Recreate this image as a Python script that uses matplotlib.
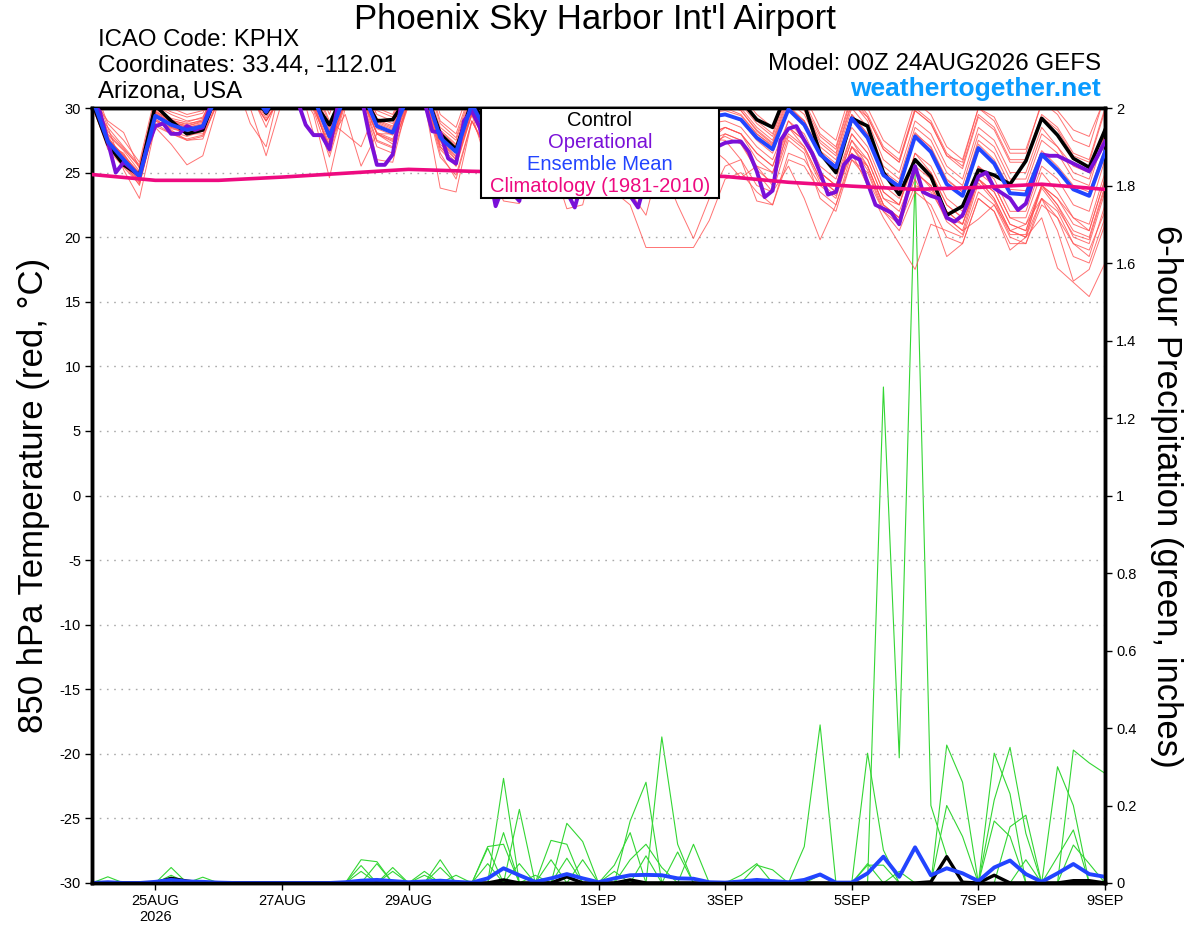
import matplotlib
matplotlib.use('Agg')
import matplotlib.pyplot as plt
from matplotlib.patches import Rectangle
import numpy as np

plt.rcParams['font.family'] = ['Liberation Sans', 'DejaVu Sans']

# ---------------- data ----------------
hours = np.arange(65) * 6          # 00Z 24AUG2026 -> 00Z 9SEP2026, 6-hourly
hours_op = np.arange(129) * 3      # operational run, 3-hourly
clim_hours = np.arange(17) * 24    # daily climatology

tick_hours = [24, 72, 120, 192, 240, 288, 336, 384]
tick_labels = ['25AUG\n2026', '27AUG', '29AUG', '1SEP', '3SEP', '5SEP', '7SEP', '9SEP']
temp_ticks = [-30, -25, -20, -15, -10, -5, 0, 5, 10, 15, 20, 25, 30]
precip_ticks = [0, 0.2, 0.4, 0.6, 0.8, 1.0, 1.2, 1.4, 1.6, 1.8, 2.0]
precip_tick_labels = ['0', '0.2', '0.4', '0.6', '0.8', '1', '1.2', '1.4', '1.6', '1.8', '2']

ens_mean_temp = [
    30.8, 27.4, 26.0, 24.7, 29.4, 28.7, 28.3, 28.6, 31.2, 32.0,
    31.5, 29.7, 31.8, 32.2, 30.8, 27.8, 31.0, 31.5, 28.6, 28.1,
    31.0, 31.5, 27.7, 26.6, 30.3, 28.0, 26.2, 25.3, 29.8, 29.0,
    26.0, 25.2, 29.6, 28.5, 26.0, 25.0, 29.5, 28.8, 28.0, 29.3,
    29.5, 29.1, 27.7, 26.8, 29.9, 28.7, 26.4, 25.4, 29.2, 27.7,
    24.8, 23.9, 27.8, 26.6, 24.1, 23.2, 26.9, 25.7, 23.4, 23.3,
    26.4, 25.2, 23.7, 23.2, 26.6]

control_temp = [
    30.5, 27.2, 25.6, 24.8, 30.2, 29.0, 28.0, 28.3, 31.5, 32.5,
    31.5, 29.6, 31.5, 32.0, 30.5, 28.7, 31.5, 31.2, 29.0, 29.1,
    31.0, 31.5, 28.0, 26.8, 30.5, 28.5, 26.8, 26.0, 30.3, 28.8,
    26.5, 25.8, 30.0, 28.5, 26.2, 25.5, 30.4, 29.5, 27.8, 29.5,
    31.5, 30.6, 29.1, 28.5, 31.5, 30.3, 26.5, 25.0, 29.2, 28.6,
    25.0, 23.3, 26.0, 24.7, 21.7, 22.4, 25.2, 24.8, 24.1, 25.9,
    29.2, 27.9, 26.1, 25.4, 28.3]

operational_temp = [
    30.5, 29.7, 27.4, 25.0, 25.8, 25.3, 24.7, 27.0, 28.6, 28.8,
    28.0, 28.0, 28.6, 28.3, 28.5, 30.2, 31.0, 31.5, 32.0, 32.0,
    31.5, 31.0, 30.5, 31.5, 32.0, 31.5, 30.5, 28.7, 27.9, 27.9,
    26.8, 30.0, 31.0, 32.0, 31.0, 28.0, 25.6, 25.6, 26.4, 30.0,
    31.5, 31.5, 30.5, 28.2, 28.1, 26.1, 25.7, 29.0, 29.8, 28.5,
    25.5, 22.4, 24.0, 23.5, 22.8, 26.5, 29.0, 29.5, 28.0, 25.5,
    23.5, 22.3, 24.5, 27.5, 29.2, 29.0, 27.5, 25.0, 23.2, 22.3,
    24.5, 27.5, 29.0, 28.8, 27.5, 25.5, 24.0, 23.5, 25.0, 27.0,
    27.3, 27.4, 27.4, 26.6, 25.1, 23.1, 23.6, 27.5, 28.4, 28.6,
    27.5, 26.5, 25.0, 23.3, 23.5, 25.6, 26.3, 26.0, 24.2, 22.5,
    22.2, 21.9, 21.0, 23.3, 25.5, 23.5, 23.2, 23.0, 21.5, 21.2,
    21.7, 23.2, 24.7, 25.0, 23.8, 23.4, 23.0, 22.1, 22.6, 24.5,
    26.4, 26.3, 26.3, 26.0, 25.7, 25.4, 25.1, 26.2, 27.4]

climatology_temp = [24.85, 24.4, 24.4, 24.65, 24.95, 25.25, 25.1, 25.0, 24.9,
                    24.8, 24.7, 24.25, 23.95, 23.7, 23.85, 24.1, 23.7]

member_temps = [
    [31.5, 28.0, 26.8, 25.5, 30.2, 29.5, 29.0, 29.2, 32.0, 32.5,
     32.0, 30.5, 32.5, 33.0, 31.5, 28.5, 31.5, 32.0, 29.5, 29.0,
     31.8, 32.0, 28.5, 27.5, 31.0, 29.0, 27.0, 26.0, 30.5, 30.0,
     27.0, 26.0, 30.5, 29.5, 27.0, 26.0, 30.5, 30.0, 29.0, 30.0,
     30.5, 30.0, 28.5, 27.5, 31.0, 30.0, 27.5, 26.5, 30.5, 29.0,
     26.0, 25.0, 29.0, 28.0, 25.5, 24.5, 28.5, 27.5, 25.0, 25.0,
     28.5, 27.0, 25.5, 25.0, 28.5],
    [30.2, 28.5, 25.2, 23.0, 28.6, 28.0, 27.5, 27.8, 30.5, 31.5,
     31.0, 29.0, 31.0, 31.5, 30.0, 27.0, 30.5, 30.8, 28.0, 27.2,
     30.2, 30.8, 26.8, 25.5, 29.5, 27.0, 25.0, 24.0, 29.0, 28.0,
     25.0, 24.0, 28.5, 27.5, 25.0, 24.0, 28.5, 28.0, 27.0, 28.0,
     28.5, 28.0, 26.5, 25.5, 29.0, 27.5, 25.0, 24.0, 28.0, 26.5,
     23.5, 22.5, 26.5, 25.0, 22.5, 21.5, 25.5, 24.0, 21.5, 21.5,
     25.0, 23.5, 21.5, 21.0, 25.0],
    [32.0, 28.8, 27.5, 25.8, 31.0, 30.5, 30.0, 30.5, 33.0, 33.5,
     33.0, 31.5, 33.5, 34.0, 32.5, 29.5, 33.0, 33.5, 30.5, 30.0,
     33.0, 33.5, 29.5, 28.5, 32.0, 30.0, 28.0, 27.0, 31.5, 31.0,
     28.0, 27.0, 31.5, 30.5, 28.0, 27.0, 31.5, 31.0, 30.0, 31.0,
     31.5, 31.0, 29.5, 28.5, 32.0, 31.0, 28.5, 27.5, 31.5, 30.0,
     27.5, 26.5, 30.5, 29.5, 27.0, 26.0, 30.0, 29.0, 26.5, 26.5,
     30.5, 29.5, 27.5, 27.0, 31.0],
    [30.5, 27.2, 26.5, 24.5, 28.5, 27.2, 25.6, 26.3, 30.5, 31.5,
     31.0, 29.5, 31.5, 32.0, 30.0, 27.0, 30.5, 31.0, 28.0, 27.5,
     30.5, 31.0, 27.0, 25.8, 29.5, 27.0, 25.5, 24.5, 28.5, 27.5,
     25.0, 23.5, 26.5, 23.5, 22.5, 19.2, 19.2, 19.2, 19.2, 21.3,
     24.5, 25.0, 23.5, 22.5, 26.0, 25.5, 23.5, 22.5, 26.5, 25.5,
     22.5, 21.5, 25.0, 24.0, 21.5, 21.0, 24.5, 23.5, 21.0, 20.5,
     24.0, 23.0, 21.5, 20.5, 24.5],
    [30.0, 27.5, 26.2, 24.2, 29.0, 28.5, 28.0, 28.0, 31.0, 32.0,
     31.2, 28.5, 31.5, 32.0, 30.5, 26.5, 30.5, 31.0, 27.5, 27.0,
     30.5, 31.0, 26.5, 24.5, 29.0, 26.5, 24.5, 23.5, 28.0, 27.0,
     24.0, 23.0, 27.0, 26.0, 24.0, 23.5, 25.5, 22.5, 19.9, 23.0,
     25.5, 26.0, 24.0, 23.5, 25.5, 23.0, 19.8, 22.5, 26.0, 24.5,
     22.0, 21.0, 24.0, 23.5, 21.5, 20.5, 24.5, 23.0, 20.5, 21.0,
     24.0, 22.5, 20.0, 19.5, 23.5],
    [31.0, 27.8, 26.0, 24.8, 29.8, 29.0, 28.8, 29.0, 31.5, 32.0,
     31.5, 30.0, 32.0, 32.5, 31.0, 28.0, 31.0, 31.5, 28.5, 28.0,
     31.0, 31.5, 27.5, 26.0, 30.0, 27.5, 25.5, 24.8, 29.5, 28.5,
     25.5, 24.5, 29.0, 28.0, 25.5, 24.5, 29.0, 28.0, 26.5, 27.5,
     28.5, 28.0, 26.0, 25.0, 28.5, 27.0, 24.5, 23.5, 26.5, 24.0,
     21.5, 19.5, 17.5, 21.0, 20.5, 20.0, 23.5, 22.5, 20.5, 20.0,
     23.0, 21.5, 19.5, 19.0, 22.0],
    [30.6, 27.0, 25.8, 24.0, 29.2, 28.2, 27.8, 28.2, 31.0, 31.8,
     31.2, 29.2, 31.5, 32.0, 30.2, 26.8, 30.8, 31.2, 28.0, 27.4,
     30.8, 31.2, 27.0, 25.5, 29.8, 27.5, 25.5, 24.5, 29.0, 28.5,
     25.5, 24.5, 29.0, 28.0, 25.0, 24.0, 28.5, 28.0, 26.5, 28.0,
     28.5, 28.0, 26.5, 25.5, 28.5, 27.5, 25.0, 24.0, 27.5, 25.5,
     22.5, 21.5, 24.5, 22.0, 18.5, 19.5, 23.0, 22.0, 19.0, 20.0,
     24.0, 23.0, 21.0, 20.5, 24.5],
    [31.2, 27.6, 26.3, 25.0, 29.6, 28.9, 28.5, 28.8, 31.5, 32.2,
     31.8, 30.2, 32.0, 32.4, 31.0, 28.0, 31.2, 31.8, 29.0, 28.5,
     31.2, 31.8, 28.0, 27.0, 30.5, 28.5, 26.5, 25.5, 30.0, 29.5,
     26.5, 25.5, 30.0, 29.0, 26.5, 25.5, 30.0, 29.5, 28.5, 29.5,
     30.0, 29.5, 28.0, 27.0, 30.0, 29.0, 26.5, 25.5, 28.5, 27.0,
     24.0, 23.0, 26.0, 24.5, 22.0, 21.0, 24.5, 23.0, 20.5, 20.0,
     21.5, 17.6, 16.5, 15.4, 18.0],
    [30.4, 27.3, 25.9, 24.6, 29.3, 28.6, 28.0, 28.4, 31.0, 31.8,
     31.4, 29.8, 31.6, 32.0, 30.6, 27.5, 30.8, 31.3, 26.0, 25.8,
     30.7, 31.3, 27.4, 26.2, 30.0, 27.8, 26.0, 25.0, 29.5, 28.8,
     25.8, 25.0, 29.2, 28.2, 25.8, 24.8, 29.2, 28.5, 27.5, 28.8,
     29.0, 28.5, 27.0, 26.0, 29.0, 28.0, 25.5, 24.5, 28.0, 26.5,
     23.5, 22.5, 26.0, 25.0, 22.5, 21.5, 25.0, 24.0, 21.5, 21.0,
     23.0, 20.5, 16.6, 17.5, 21.0],
    [31.8, 28.5, 27.0, 25.6, 30.5, 30.0, 29.5, 29.8, 32.5, 33.0,
     32.5, 31.0, 33.0, 33.5, 32.0, 29.0, 28.0, 27.0, 30.0, 29.5,
     32.5, 33.0, 29.0, 28.0, 31.5, 29.5, 27.5, 26.5, 31.0, 30.5,
     27.5, 26.5, 31.0, 30.0, 27.5, 26.5, 31.0, 30.5, 29.5, 30.5,
     31.0, 30.5, 29.0, 28.0, 31.5, 30.5, 28.0, 27.0, 31.0, 29.5,
     27.0, 26.0, 30.0, 29.0, 26.5, 25.5, 29.5, 28.5, 26.0, 26.0,
     29.5, 28.5, 26.5, 26.0, 30.0],
    [30.3, 27.0, 25.5, 24.3, 29.0, 28.3, 27.5, 27.6, 30.8, 31.5,
     31.0, 29.0, 31.2, 31.6, 29.5, 24.6, 30.0, 30.5, 27.0, 26.5,
     30.2, 30.5, 23.8, 23.5, 29.0, 26.5, 24.5, 23.5, 28.0, 27.5,
     24.5, 23.5, 28.0, 27.0, 24.5, 23.5, 28.0, 27.5, 26.5, 27.5,
     28.0, 27.5, 25.5, 24.0, 28.5, 27.5, 25.0, 24.0, 27.5, 26.0,
     23.0, 22.5, 26.5, 25.5, 23.0, 22.0, 25.5, 24.5, 22.0, 22.0,
     25.5, 24.5, 22.5, 22.0, 26.0],
    [30.9, 27.5, 26.4, 24.9, 29.5, 28.8, 28.5, 28.7, 31.0, 31.5,
     30.0, 26.3, 30.5, 31.5, 30.5, 27.5, 29.5, 25.5, 28.0, 28.0,
     31.0, 31.5, 27.5, 26.5, 30.0, 28.0, 26.0, 25.0, 29.5, 29.0,
     26.0, 25.0, 29.5, 28.5, 26.0, 25.0, 29.5, 29.0, 28.0, 29.0,
     29.5, 29.0, 27.5, 26.5, 30.0, 29.0, 26.5, 25.5, 29.5, 28.0,
     25.0, 24.0, 28.0, 27.0, 24.5, 23.5, 27.5, 26.5, 24.0, 24.0,
     27.5, 26.5, 24.5, 24.0, 28.0],
    [30.7, 29.0, 28.1, 25.3, 29.9, 29.2, 28.9, 29.3, 31.8, 32.4,
     32.0, 30.8, 32.2, 32.6, 31.2, 28.3, 31.4, 31.9, 29.2, 28.8,
     31.5, 31.9, 28.3, 27.2, 30.8, 28.5, 26.8, 26.0, 30.2, 29.8,
     26.8, 26.0, 30.2, 29.2, 26.8, 26.0, 30.2, 29.8, 28.8, 29.8,
     30.2, 29.8, 28.2, 27.2, 30.5, 29.5, 27.0, 26.0, 30.0, 28.5,
     25.5, 24.5, 28.5, 27.5, 25.0, 24.0, 28.0, 27.0, 24.5, 24.5,
     28.0, 27.0, 25.0, 24.5, 28.0],
    [30.1, 27.1, 25.6, 24.4, 29.1, 28.4, 28.1, 28.3, 30.9, 31.6,
     31.1, 29.4, 31.4, 31.8, 30.3, 27.2, 30.6, 31.0, 28.1, 27.6,
     30.6, 31.0, 27.2, 26.0, 29.6, 27.2, 25.2, 24.2, 28.8, 28.0,
     25.2, 24.2, 28.6, 27.6, 25.2, 24.2, 28.6, 27.8, 26.8, 27.6,
     27.5, 26.0, 22.8, 22.5, 26.5, 26.0, 24.0, 23.0, 27.0, 25.5,
     22.5, 21.5, 25.5, 24.5, 22.0, 21.0, 24.5, 23.5, 21.0, 20.5,
     24.0, 22.5, 20.5, 20.0, 24.0],
    [31.1, 27.9, 26.7, 25.1, 29.7, 29.0, 28.6, 29.0, 31.6, 32.3,
     31.7, 30.0, 31.9, 32.3, 30.9, 27.9, 31.2, 31.6, 28.8, 28.3,
     31.2, 31.6, 27.9, 26.8, 30.4, 27.5, 25.0, 24.5, 28.5, 26.0,
     22.2, 22.5, 27.5, 27.0, 24.5, 24.0, 28.0, 27.5, 26.5, 27.0,
     26.0, 24.6, 25.5, 25.0, 28.0, 27.0, 24.5, 23.5, 27.0, 26.0,
     23.0, 22.0, 25.0, 24.0, 21.5, 20.5, 21.4, 22.5, 20.0, 19.5,
     23.0, 22.0, 19.5, 18.5, 22.5],
    [30.5, 27.3, 25.8, 24.5, 29.3, 28.5, 28.2, 28.4, 31.1, 31.9,
     31.3, 29.6, 31.7, 32.1, 30.6, 27.6, 30.9, 31.4, 28.4, 27.9,
     30.9, 31.4, 27.5, 26.3, 29.5, 25.5, 22.8, 22.6, 27.5, 27.0,
     24.0, 23.5, 28.0, 27.0, 23.5, 21.7, 26.5, 27.0, 25.5, 26.5,
     28.0, 27.5, 25.0, 23.5, 27.5, 26.5, 23.0, 22.0, 26.0, 25.0,
     22.0, 20.5, 23.5, 22.5, 20.0, 19.5, 23.0, 22.0, 19.5, 19.5,
     22.5, 21.5, 18.5, 18.0, 21.5],
    [31.4, 28.2, 26.9, 25.4, 30.3, 29.7, 29.3, 29.6, 32.2, 32.8,
     32.3, 30.8, 32.7, 33.2, 31.8, 28.8, 32.0, 32.5, 29.8, 29.3,
     32.2, 32.6, 28.8, 27.7, 31.3, 29.3, 27.2, 26.2, 30.8, 30.2,
     27.2, 26.3, 30.8, 29.8, 27.3, 26.3, 30.8, 30.2, 29.2, 30.2,
     30.8, 30.3, 28.8, 27.8, 31.2, 30.2, 27.8, 26.8, 30.8, 29.3,
     26.8, 25.8, 29.8, 28.8, 26.3, 25.3, 29.3, 28.3, 25.8, 25.8,
     29.3, 28.3, 26.3, 25.8, 29.8],
    [30.3, 26.8, 25.4, 24.1, 28.8, 28.0, 27.6, 27.9, 30.6, 31.3,
     30.8, 29.0, 31.0, 31.5, 29.8, 26.2, 30.3, 30.6, 27.4, 26.9,
     30.4, 30.8, 26.2, 24.8, 29.0, 26.8, 24.8, 23.8, 28.4, 27.6,
     24.6, 23.6, 28.2, 27.2, 24.6, 23.6, 28.2, 27.4, 26.2, 27.2,
     27.8, 27.2, 25.2, 24.2, 27.8, 26.8, 24.2, 23.2, 27.0, 25.2,
     22.2, 21.2, 25.2, 23.8, 21.2, 20.2, 24.2, 22.8, 20.2, 20.2,
     23.8, 22.2, 20.2, 19.8, 23.8],
    [30.8, 27.6, 26.2, 24.9, 29.6, 28.9, 28.6, 28.9, 31.5, 32.2,
     31.6, 30.0, 31.9, 32.3, 28.0, 28.0, 31.2, 31.7, 28.9, 28.4,
     31.3, 31.7, 28.0, 26.9, 30.6, 28.3, 26.5, 25.6, 30.1, 29.3,
     26.3, 25.5, 29.9, 28.8, 26.3, 25.3, 29.8, 29.1, 28.3, 29.6,
     29.8, 29.4, 28.0, 27.1, 30.2, 29.0, 26.7, 25.7, 29.5, 28.0,
     25.1, 24.2, 28.1, 26.9, 24.4, 23.5, 27.2, 26.0, 23.7, 23.6,
     26.7, 25.5, 24.0, 23.5, 26.9],
    [31.0, 27.7, 26.3, 24.8, 29.7, 29.1, 28.7, 29.1, 31.7, 32.3,
     28.8, 27.0, 32.1, 32.5, 31.2, 28.2, 31.5, 31.9, 29.1, 28.6,
     31.5, 31.9, 28.2, 27.1, 30.8, 28.6, 26.8, 25.8, 30.3, 29.6,
     26.6, 25.8, 30.3, 29.3, 26.8, 25.8, 30.3, 29.6, 28.6, 29.8,
     30.3, 29.8, 28.3, 27.3, 30.8, 29.8, 27.3, 26.3, 30.3, 29.3,
     26.8, 25.8, 29.8, 28.8, 26.3, 25.8, 30.0, 29.3, 26.8, 26.8,
     30.3, 29.8, 28.3, 27.8, 30.8],
]

# 6-hour precipitation (inches), rows of 13 steps
member_precip = [
    [0, .016, 0, 0, 0, 0, 0, 0, 0, 0, 0, 0, 0,
     0, 0, 0, 0, 0, 0, .03, 0, 0, 0, 0, 0, 0,
     0, 0, 0, 0, 0, 0, 0, 0, 0, 0, 0, 0, 0,
     0, 0, .02, .05, 0, 0, 0, 0, 0, 0, 0, 0, 0,
     0, 0, 0, 0, 0, 0, 0, 0, 0, 0, 0, 0, 0],
    [0, 0, 0, 0, 0, .04, 0, 0, 0, 0, 0, 0, 0,
     0, 0, 0, 0, 0, 0, 0, 0, .03, 0, 0, 0, 0,
     0, 0, 0, 0, 0, 0, 0, 0, 0, 0, 0, 0, 0,
     0, 0, 0, .046, .034, 0, 0, 0, 0, 0, 0, 0, 0,
     0, 0, 0, 0, 0, 0, 0, 0, 0, 0, 0, 0, 0],
    [0, 0, 0, 0, 0, .02, 0, 0, 0, 0, 0, 0, 0,
     0, 0, 0, 0, 0, 0, 0, 0, .02, 0, 0, 0, 0,
     0, 0, 0, 0, 0, 0, 0, 0, 0, 0, 0, 0, 0,
     0, 0, 0, 0, 0, 0, .094, .408, 0, 0, 0, 0, 0,
     0, 0, 0, 0, 0, 0, 0, 0, 0, 0, 0, 0, 0],
    [0, 0, 0, 0, 0, .015, 0, 0, 0, 0, 0, 0, 0,
     0, 0, 0, 0, 0, 0, 0, 0, 0, .06, 0, 0, 0,
     0, 0, 0, 0, 0, 0, 0, 0, 0, 0, 0, 0, 0,
     0, 0, 0, 0, 0, 0, 0, .02, 0, 0, .335, .085, 0,
     0, 0, 0, 0, 0, 0, 0, 0, 0, 0, 0, 0, 0],
    [0, 0, 0, 0, 0, 0, 0, .015, 0, 0, 0, 0, 0,
     0, 0, 0, 0, 0, 0, 0, 0, 0, .04, 0, 0, 0,
     0, 0, 0, 0, 0, 0, 0, 0, 0, 0, 0, 0, 0,
     0, 0, 0, 0, 0, 0, 0, 0, 0, 0, .046, .046, 0,
     0, 0, 0, 0, 0, 0, 0, 0, 0, 0, 0, 0, 0],
    [0, 0, 0, 0, 0, 0, 0, 0, 0, 0, 0, 0, 0,
     0, 0, 0, 0, .06, .055, 0, 0, 0, 0, 0, 0, .094,
     .1, 0, 0, 0, 0, 0, 0, 0, 0, 0, 0, 0, 0,
     0, 0, 0, 0, 0, 0, 0, 0, 0, 0, .05, 0, 0,
     0, 0, 0, 0, 0, 0, 0, 0, 0, 0, 0, 0, 0],
    [0, 0, 0, 0, 0, 0, 0, 0, 0, 0, 0, 0, 0,
     0, 0, 0, 0, .045, 0, 0, 0, 0, 0, 0, 0, .09,
     0, .05, 0, 0, 0, 0, 0, 0, 0, 0, 0, 0, 0,
     0, 0, 0, 0, 0, 0, 0, 0, 0, 0, 0, 1.28, .323,
     1.83, .2, .07, 0, 0, 0, 0, 0, 0, 0, 0, 0, 0],
    [0, 0, 0, 0, 0, 0, 0, 0, 0, 0, 0, 0, 0,
     0, 0, 0, 0, .03, 0, 0, 0, 0, 0, 0, 0, .05,
     0, 0, 0, 0, 0, 0, 0, 0, 0, 0, 0, 0, 0,
     0, 0, 0, 0, 0, 0, 0, 0, 0, 0, 0, 0, .03,
     0, 0, .356, .26, 0, 0, 0, 0, 0, 0, 0, 0, 0],
    [0, 0, 0, 0, 0, 0, 0, 0, 0, 0, 0, 0, 0,
     0, 0, 0, 0, 0, .05, 0, 0, 0, 0, 0, 0, 0,
     .27, 0, 0, 0, 0, 0, 0, 0, 0, 0, 0, 0, 0,
     0, 0, 0, 0, 0, 0, 0, 0, 0, 0, 0, 0, 0,
     0, 0, .2, .12, 0, 0, 0, 0, 0, 0, 0, 0, 0],
    [0, 0, 0, 0, 0, 0, 0, 0, 0, 0, 0, 0, 0,
     0, 0, 0, 0, 0, 0, .04, 0, 0, 0, 0, 0, 0,
     .13, 0, 0, 0, 0, 0, 0, 0, 0, 0, 0, 0, 0,
     0, 0, 0, 0, 0, 0, 0, 0, 0, 0, 0, 0, 0,
     0, 0, .068, 0, 0, .335, .23, 0, 0, 0, 0, 0, 0],
    [0, 0, 0, 0, 0, 0, 0, 0, 0, 0, 0, 0, 0,
     0, 0, 0, 0, 0, 0, 0, 0, 0, 0, 0, 0, 0,
     0, .19, 0, 0, 0, 0, 0, 0, 0, 0, 0, 0, 0,
     0, 0, 0, 0, 0, 0, 0, 0, 0, 0, 0, 0, 0,
     0, 0, 0, 0, 0, .214, .35, .128, 0, 0, 0, 0, 0],
    [0, 0, 0, 0, 0, 0, 0, 0, 0, 0, 0, 0, 0,
     0, 0, 0, 0, 0, 0, 0, 0, 0, 0, 0, 0, 0,
     0, 0, 0, .11, .1, 0, 0, 0, 0, 0, 0, 0, 0,
     0, 0, 0, 0, 0, 0, 0, 0, 0, 0, 0, 0, 0,
     0, 0, 0, 0, 0, .16, .12, 0, 0, 0, 0, 0, 0],
    [0, 0, 0, 0, 0, 0, 0, 0, 0, 0, 0, 0, 0,
     0, 0, 0, 0, 0, 0, 0, 0, 0, 0, 0, 0, 0,
     0, 0, 0, 0, .154, .107, 0, 0, 0, 0, 0, 0, 0,
     0, 0, 0, 0, 0, 0, 0, 0, 0, 0, 0, 0, 0,
     0, 0, 0, 0, 0, 0, .145, .175, 0, 0, 0, 0, 0],
    [0, 0, 0, 0, 0, 0, 0, 0, 0, 0, 0, 0, 0,
     0, 0, 0, 0, 0, 0, 0, 0, 0, 0, 0, 0, 0,
     0, 0, 0, 0, .064, 0, 0, 0, 0, 0, 0, 0, 0,
     0, 0, 0, 0, 0, 0, 0, 0, 0, 0, 0, 0, 0,
     0, 0, 0, 0, 0, 0, 0, .06, 0, .3, .2, 0, 0],
    [0, 0, 0, 0, 0, 0, 0, 0, 0, 0, 0, 0, 0,
     0, 0, 0, 0, 0, 0, 0, 0, 0, 0, 0, 0, 0,
     0, 0, 0, 0, 0, .06, 0, 0, 0, 0, 0, 0, 0,
     0, 0, 0, 0, 0, 0, 0, 0, 0, 0, 0, 0, 0,
     0, 0, 0, 0, 0, 0, 0, 0, 0, .068, .137, 0, 0],
    [0, 0, 0, 0, 0, 0, 0, 0, 0, 0, 0, 0, 0,
     0, 0, 0, 0, 0, 0, 0, 0, 0, 0, 0, 0, 0,
     0, 0, 0, 0, 0, 0, 0, .046, .13, 0, 0, 0, 0,
     0, 0, 0, 0, 0, 0, 0, 0, 0, 0, 0, 0, 0,
     0, 0, 0, 0, 0, 0, 0, 0, 0, 0, .343, .31, .283],
    [0, 0, 0, 0, 0, 0, 0, 0, 0, 0, 0, 0, 0,
     0, 0, 0, 0, 0, 0, 0, 0, 0, 0, 0, 0, 0,
     0, 0, 0, 0, 0, 0, 0, 0, .16, .26, 0, 0, 0,
     0, 0, 0, 0, 0, 0, 0, 0, 0, 0, 0, 0, 0,
     0, 0, 0, 0, 0, 0, 0, 0, 0, 0, .098, .05, 0],
    [0, 0, 0, 0, 0, 0, 0, 0, 0, 0, 0, 0, 0,
     0, 0, 0, 0, 0, 0, 0, 0, 0, 0, 0, 0, 0,
     0, 0, 0, .06, 0, 0, 0, 0, 0, .07, 0, .08, 0,
     0, 0, 0, 0, 0, 0, 0, 0, 0, 0, 0, 0, 0,
     0, 0, 0, 0, 0, 0, 0, 0, 0, 0, 0, 0, 0],
    [0, 0, 0, 0, 0, 0, 0, 0, 0, 0, 0, 0, 0,
     0, 0, 0, 0, 0, 0, 0, 0, 0, 0, 0, 0, 0,
     0, 0, 0, 0, 0, 0, 0, .03, 0, 0, .377, .1, 0,
     0, 0, 0, 0, 0, 0, 0, 0, 0, 0, 0, 0, 0,
     0, 0, 0, 0, 0, 0, 0, 0, 0, 0, 0, 0, 0],
    [0, 0, 0, 0, 0, 0, 0, 0, 0, 0, 0, 0, 0,
     0, 0, 0, 0, 0, 0, 0, 0, 0, 0, .02, 0, 0,
     0, 0, .02, 0, 0, 0, 0, 0, .06, .1, .04, 0, .1,
     0, 0, 0, 0, 0, 0, 0, 0, 0, 0, 0, 0, 0,
     0, 0, 0, 0, 0, 0, 0, 0, 0, 0, 0, 0, 0],
]

ens_mean_precip = [
    0, .002, 0, 0, .003, .008, .004, .003, .001, 0, 0, 0, 0,
    0, 0, 0, .002, .006, .008, .005, .002, .004, .006, .003, .001, .012,
    .038, .02, .003, .012, .023, .012, .002, .012, .02, .021, .02, .012, .011,
    .002, .001, .004, .008, .005, .002, .008, .022, .001, .001, .025, .068, .016,
    .092, .02, .038, .025, .005, .04, .058, .023, .003, .025, .049, .023, .016]

control_precip = [
    0, 0, 0, 0, 0, .012, .005, 0, 0, 0, 0, 0, 0,
    0, 0, 0, 0, 0, 0, 0, 0, 0, 0, 0, 0, 0,
    .008, 0, 0, 0, .016, 0, 0, 0, .008, 0, 0, 0, 0,
    0, 0, 0, 0, 0, 0, 0, 0, 0, 0, 0, 0, 0,
    0, .003, .068, .002, 0, .02, 0, 0, 0, 0, .006, .006, 0]

# ---------------- colours ----------------
RED = '#FF5050'
GREEN = '#33D633'
BLUE = '#2244FF'
PURPLE = '#7A10D8'
PINK = '#EE0A80'

W, H = 1200, 927
fig = plt.figure(figsize=(W / 100, H / 100), dpi=100)
ax = fig.add_axes([92 / W, 44 / H, 1013 / W, 775 / H])
ax2 = ax.twinx()
ax.set_zorder(ax2.get_zorder() + 1)
ax.patch.set_visible(False)

for m in member_precip:
    ax2.plot(hours, m, color=GREEN, lw=0.8, zorder=2)
ax2.plot(hours, ens_mean_precip, color=BLUE, lw=2.8, zorder=4)
ax2.plot(hours, control_precip, color='black', lw=2.4, zorder=3)

for m in member_temps:
    ax.plot(hours, m, color=RED, lw=0.7, alpha=0.8, zorder=2)
ax.plot(hours, control_temp, color='black', lw=2.6, zorder=3)
ax.plot(hours_op, operational_temp, color=PURPLE, lw=2.8, zorder=4)
ax.plot(hours, ens_mean_temp, color=BLUE, lw=2.8, zorder=5)
ax.plot(clim_hours, climatology_temp, color=PINK, lw=2.6, zorder=6)

ax.set_xlim(0, 384)
ax.set_ylim(-30, 30)
ax2.set_ylim(0, 2)

ax.set_yticks(temp_ticks)
ax.set_yticklabels([str(t) for t in temp_ticks])
ax.yaxis.grid(True, linestyle=(0, (1.2, 4)), color='#aaaaaa', lw=1)
ax.set_xticks(tick_hours)
ax.set_xticklabels(tick_labels)
ax2.set_yticks(precip_ticks)
ax2.set_yticklabels(precip_tick_labels)

ax.tick_params(axis='y', direction='out', length=5, width=1, labelsize=10.5, pad=3)
ax.tick_params(axis='x', direction='out', length=5, width=1, labelsize=10.5, pad=3)
ax2.tick_params(axis='y', direction='out', length=5, width=1, labelsize=10.5, pad=3)
for a in (ax, ax2):
    for s in a.spines.values():
        s.set_linewidth(2.5)

# titles / info text
def fx(px):
    return px / W

def fy(py):
    return 1 - py / H

fig.text(fx(595), fy(19), "Phoenix Sky Harbor Int'l Airport", ha='center', va='center', fontsize=25)
fig.text(fx(98), fy(40), 'ICAO Code: KPHX', ha='left', va='center', fontsize=17.3)
fig.text(fx(98), fy(66), 'Coordinates: 33.44, -112.01', ha='left', va='center', fontsize=17.5)
fig.text(fx(98), fy(92), 'Arizona, USA', ha='left', va='center', fontsize=17.3)
fig.text(fx(1101), fy(64), 'Model: 00Z 24AUG2026 GEFS', ha='right', va='center', fontsize=17.4)
fig.text(fx(1101), fy(89), 'weathertogether.net', ha='right', va='center', fontsize=19,
         fontweight='bold', color='#0A9BFF')

fig.text(fx(34), fy(495), '850 hPa Temperature (red, °C)', rotation=90, ha='center', va='center', fontsize=25)
fig.text(fx(1166), fy(496), '6-hour Precipitation (green, inches)', rotation=-90, ha='center', va='center', fontsize=25)

# legend box
rect = Rectangle((fx(481), fy(198)), (719 - 481) / W, 90 / H, transform=fig.transFigure,
                 facecolor='white', edgecolor='black', lw=1.5, zorder=10)
fig.add_artist(rect)
legend_items = [('Control', 'black', 121), ('Operational', PURPLE, 142),
                ('Ensemble Mean', BLUE, 164), ('Climatology (1981-2010)', PINK, 186)]
for label, col, py in legend_items:
    t = fig.text(fx(600), fy(py), label, ha='center', va='center', fontsize=14.5, color=col)
    t.set_zorder(11)

fig.savefig('out.png', dpi=100)
